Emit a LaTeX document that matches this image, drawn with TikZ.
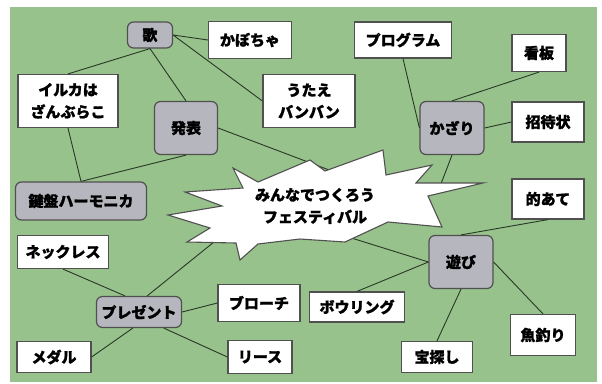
\documentclass[tikz,border=0pt]{standalone}
\usepackage{fontspec}
\setmainfont{Noto Sans CJK JP}[BoldFeatures={FakeBold=1.2}]
\definecolor{bggreen}{RGB}{152,194,140}
\definecolor{nodegray}{RGB}{182,182,190}
\definecolor{boxline}{RGB}{80,80,80}
\definecolor{linkcol}{RGB}{40,55,40}
\tikzset{
  every node/.style={font=\fontsize{15pt}{22pt}\selectfont\bfseries, inner sep=0pt, align=center},
  wbox/.style={draw=boxline, fill=white, line width=1.2pt},
  gbox/.style={draw=boxline, fill=nodegray, line width=1.2pt, rounded corners=6pt},
  link/.style={draw=linkcol, line width=0.9pt},
}
\begin{document}
\begin{tikzpicture}[x=1pt,y=-1pt]
\useasboundingbox (0,0) rectangle (602,383);
\fill[white] (0,0) rectangle (602,383);
\fill[bggreen] (10,7) rectangle (597,382);

% nodes
\node[gbox, minimum width=45pt, minimum height=26pt] (uta) at (150,35) {歌};
\node[wbox, minimum width=83pt, minimum height=37pt] (kabocha) at (250,40) {かぼちゃ};
\node[wbox, minimum width=100pt, minimum height=53pt] (iruka) at (68,101) {イルカは\\ざんぶらこ};
\node[gbox, minimum width=63pt, minimum height=53pt] (happyo) at (186,128) {発表};
\node[wbox, minimum width=92pt, minimum height=53pt] (utae) at (309,101) {うたえ\\バンバン};
\node[wbox, minimum width=97pt, minimum height=36pt] (program) at (403,40) {プログラム};
\node[wbox, minimum width=54pt, minimum height=37pt] (kanban) at (539,53) {看板};
\node[gbox, minimum width=64pt, minimum height=53pt] (kazari) at (452,128) {かざり};
\node[wbox, minimum width=72pt, minimum height=40pt] (shotai) at (548,122) {招待状};
\node[gbox, minimum width=131pt, minimum height=38pt] (kenban) at (81,201) {鍵盤ハーモニカ};
\node[wbox, minimum width=91pt, minimum height=33pt] (necklace) at (63,252) {ネックレス};
\node[gbox, minimum width=85pt, minimum height=31pt] (present) at (139,312) {プレゼント};
\node[wbox, minimum width=82pt, minimum height=37pt] (brooch) at (259,303) {ブローチ};
\node[wbox, minimum width=74pt, minimum height=31pt] (medal) at (54,357) {メダル};
\node[wbox, minimum width=64pt, minimum height=33pt] (wreath) at (260,357) {リース};
\node[wbox, minimum width=72pt, minimum height=40pt] (mato) at (548,199) {的あて};
\node[gbox, minimum width=64pt, minimum height=53pt] (asobi) at (461,262) {遊び};
\node[wbox, minimum width=95pt, minimum height=30pt] (bowling) at (357,307) {ボウリング};
\node[wbox, minimum width=71pt, minimum height=31pt] (takara) at (437,357) {宝探し};
\node[wbox, minimum width=65pt, minimum height=41pt] (tsuri) at (543,335) {魚釣り};

% hub ends (hidden behind the burst)
\coordinate (hubH) at (345,176);
\coordinate (hubK) at (439,189);
\coordinate (hubA) at (345,236);
\coordinate (hubP) at (240,221);

% connectors
\draw[link] (uta.east) -- (kabocha.west);
\draw[link] (uta.east) -- (utae.west);
\draw[link] (uta.south) -- (iruka.north);
\draw[link] (uta.south) -- (happyo.north);
\draw[link] (iruka.south) -- (kenban.north);
\draw[link] (happyo.south) -- (kenban.north);
\draw[link] (happyo.east) -- (hubH);
\draw[link] (kazari.south) -- (hubK);
\draw[link] (asobi.west) -- (hubA);
\draw[link] (present.63) -- (hubP);
\draw[link] (program.south) -- (kazari.west);
\draw[link] (kazari.north) -- (kanban.south);
\draw[link] (kazari.east) -- (shotai.west);
\draw[link] (asobi.north) -- (mato.south);
\draw[link] (asobi.east) -- (tsuri.north);
\draw[link] (asobi.south) -- (takara.north);
\draw[link] (asobi.west) -- (bowling.north);
\draw[link] (necklace.south) -- (present.131);
\draw[link] (present.east) -- (brooch.west);
\draw[link] (present.249) -- (medal.east);
\draw[link] (present.327) -- (wreath.west);

% burst
\filldraw[fill=white, draw=boxline, line width=1.1pt, line join=miter]
  (233,168) -- (258,182) -- (310,160) -- (325,171) -- (383,150) -- (386,175)
  -- (432,165) -- (416,183) -- (483,183) -- (428,196) -- (442,227) -- (388,222)
  -- (345,242) -- (300,239) -- (258,244) -- (240,260) -- (236,243) -- (187,242)
  -- (210,228) -- (168,215) -- (222,206) -- (185,192) -- (243,188) -- cycle;
\node (title) at (315,206) {みんなでつくろう\\フェスティバル};
\end{tikzpicture}
\end{document}
